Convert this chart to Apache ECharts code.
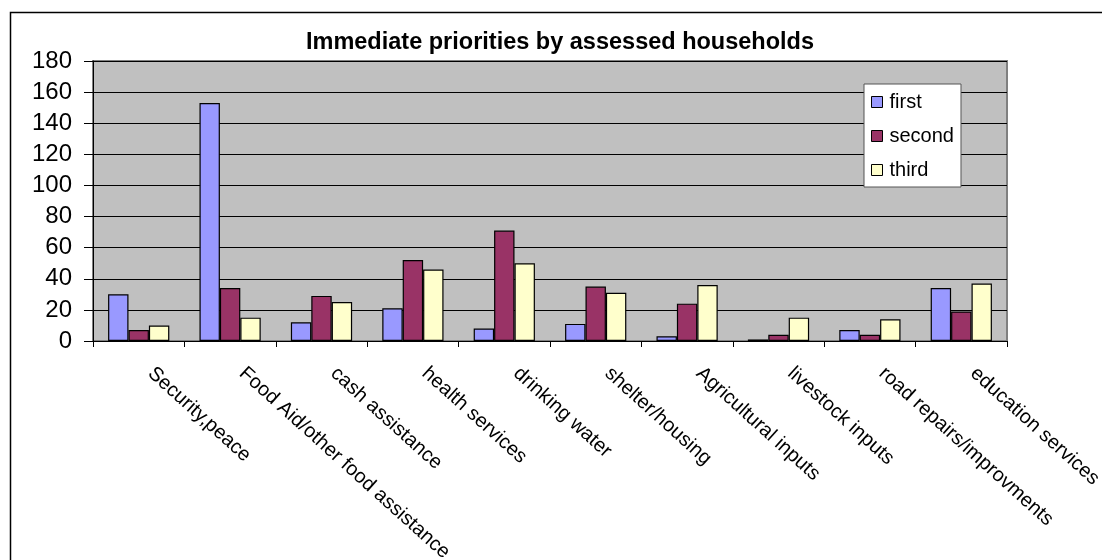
<!DOCTYPE html>
<html>
<head>
<meta charset="utf-8">
<script src="https://cdn.jsdelivr.net/npm/echarts@6/dist/echarts.min.js"></script>
<style>
  html, body { margin: 0; padding: 0; background: #fff; }
  #chart { width: 1102px; height: 560px; }
</style>
</head>
<body>
<div id="chart"></div>
<script>
// Household priority categories and ranked responses
const categories = [
  'Security,peace', 'Food Aid/other food assistance', 'cash assistance',
  'health services', 'drinking water', 'shelter/housing', 'Agricultural inputs',
  'livestock inputs', 'road repairs/improvments', 'education services'
];
const seriesNames = ['first', 'second', 'third'];
const firstPriority  = [30, 153, 12, 21, 8, 11, 3, 1, 7, 34];
const secondPriority = [7, 34, 29, 52, 71, 35, 24, 4, 4, 19];
const thirdPriority  = [10, 15, 25, 46, 50, 31, 36, 15, 14, 37];
const yTicks = [0, 20, 40, 60, 80, 100, 120, 140, 160, 180];

const FONT = "'Liberation Sans', Arial, sans-serif";
const colors = ['#9999FF', '#993366', '#FFFFCC'];
const values = [firstPriority, secondPriority, thirdPriority];

const chart = echarts.init(document.getElementById('chart'));

chart.setOption({
  animation: false,
  backgroundColor: '#ffffff',
  title: {
    text: 'Immediate priorities by assessed households',
    left: 555,
    top: 26,
    textAlign: 'center',
    textStyle: { fontFamily: FONT, fontSize: 23.5, fontWeight: 'bold', color: '#000' }
  },
  legend: {
    orient: 'vertical',
    left: 864,
    top: 84,
    padding: [8, 7, 7, 7],
    itemGap: 14,
    itemWidth: 11,
    itemHeight: 11,
    backgroundColor: '#ffffff',
    borderColor: '#555555',
    borderWidth: 1,
    icon: 'rect',
    data: seriesNames,
    itemStyle: { borderColor: '#000', borderWidth: 1 },
    textStyle: { fontFamily: FONT, fontSize: 20, color: '#000', padding: [0, 0, 0, 2] }
  },
  grid: {
    left: 93,
    right: 95,
    top: 61,
    bottom: 219,
    outerBoundsMode: 'none',
    containLabel: false,
    show: true,
    backgroundColor: '#C0C0C0',
    borderColor: '#808080',
    borderWidth: 2
  },
  xAxis: {
    type: 'category',
    data: categories,
    axisLine: { show: true, lineStyle: { color: '#000', width: 1 } },
    axisTick: { show: true, length: 6, lineStyle: { color: '#000' } },
    axisLabel: {
      interval: 0,
      rotate: -42,
      margin: 19,
      padding: [0, 0, 0, 16],
      fontFamily: FONT,
      fontSize: 20,
      color: '#000'
    },
    splitLine: { show: false }
  },
  yAxis: {
    type: 'value',
    min: yTicks[0],
    max: yTicks[yTicks.length - 1],
    interval: yTicks[1] - yTicks[0],
    axisLine: { show: true, lineStyle: { color: '#000', width: 1 } },
    axisTick: { show: true, length: 9, lineStyle: { color: '#000' } },
    axisLabel: { margin: 21, fontFamily: FONT, fontSize: 24, color: '#000' },
    splitLine: { show: true, lineStyle: { color: '#000', width: 1 } }
  },
  series: seriesNames.map((name, i) => ({
    name: name,
    type: 'bar',
    data: values[i],
    barGap: '0%',
    barCategoryGap: '33%',
    itemStyle: { color: colors[i], borderColor: '#000', borderWidth: 1.2 }
  })),
  graphic: [{
    type: 'rect',
    left: 8,
    top: 10,
    shape: { x: 0, y: 0, width: 1110, height: 570 },
    style: { fill: 'none', stroke: '#000', lineWidth: 1.5 },
    silent: true,
    z: 100
  }]
});
</script>
</body>
</html>
